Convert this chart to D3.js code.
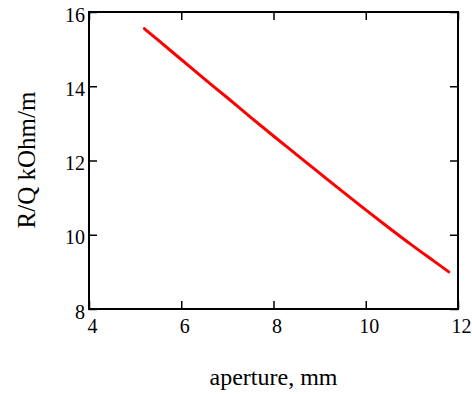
<!DOCTYPE html>
<html>
<head>
<meta charset="utf-8">
<script src="https://cdn.jsdelivr.net/npm/d3@7"></script>
<style>
  html, body { margin: 0; padding: 0; background: #fff; }
  svg { display: block; }
</style>
</head>
<body>
<svg id="chart" width="472" height="394"></svg>
<script>
// Data
const aperture = [5.2, 5.5, 6, 6.5, 7, 7.5, 8, 8.5, 9, 9.5, 10, 10.5, 11, 11.5, 11.8];
const rq       = [15.55, 15.24, 14.72, 14.2, 13.69, 13.17, 12.66, 12.16, 11.66, 11.16, 10.67, 10.19, 9.72, 9.27, 9.0];
const xTicks = [4, 6, 8, 10, 12];
const yTicks = [8, 10, 12, 14, 16];
const xLabel = "aperture, mm";
const yLabel = "R/Q kOhm/m";

const svg = d3.select("#chart");
const m = { left: 89, top: 12, right: 458, bottom: 309 };
const x = d3.scaleLinear().domain([4, 12]).range([m.left, m.right]);
const y = d3.scaleLinear().domain([8, 16]).range([m.bottom, m.top]);
const tickFont = "'Liberation Serif', 'Times New Roman', serif";

function styleAxis(g, hideText) {
  g.select(".domain").remove();
  g.selectAll(".tick line").attr("stroke", "#000").attr("stroke-width", 1.5);
  g.selectAll(".tick text").attr("fill", "#000").style("font-family", tickFont).style("font-size", "20px");
  if (hideText) g.selectAll(".tick text").remove();
}

// bottom axis
svg.append("g").attr("transform", `translate(0,${m.bottom})`)
  .call(d3.axisBottom(x).tickValues(xTicks).tickSize(-8).tickPadding(10).tickFormat(d3.format("d")))
  .call(g => styleAxis(g, false))
  .call(g => g.selectAll(".tick text").attr("dx", 3));
// top axis (ticks only)
svg.append("g").attr("transform", `translate(0,${m.top})`)
  .call(d3.axisTop(x).tickValues(xTicks).tickSize(-8))
  .call(g => styleAxis(g, true));
// left axis
svg.append("g").attr("transform", `translate(${m.left},0)`)
  .call(d3.axisLeft(y).tickValues(yTicks).tickSize(-8).tickPadding(4).tickFormat(d3.format("d")))
  .call(g => styleAxis(g, false))
  .call(g => g.selectAll(".tick text").attr("dy", "0.45em"));
// right axis (ticks only)
svg.append("g").attr("transform", `translate(${m.right},0)`)
  .call(d3.axisRight(y).tickValues(yTicks).tickSize(-8))
  .call(g => styleAxis(g, true));

// frame
svg.append("rect")
  .attr("x", m.left).attr("y", m.top)
  .attr("width", m.right - m.left).attr("height", m.bottom - m.top)
  .attr("fill", "none").attr("stroke", "#000").attr("stroke-width", 2);

// data line
const pts = aperture.map((a, i) => [a, rq[i]]);
svg.append("path")
  .datum(pts)
  .attr("fill", "none")
  .attr("stroke", "#ff0000")
  .attr("stroke-width", 3)
  .attr("stroke-linecap", "round")
  .attr("d", d3.line().curve(d3.curveMonotoneX).x(d => x(d[0])).y(d => y(d[1])));

// axis titles
svg.append("text")
  .attr("x", (m.left + m.right) / 2).attr("y", 385)
  .attr("text-anchor", "middle")
  .style("font-family", tickFont).style("font-size", "24px")
  .text(xLabel);

svg.append("text")
  .attr("transform", `translate(35,160) rotate(-90)`)
  .attr("text-anchor", "middle")
  .style("font-family", tickFont).style("font-size", "25px")
  .text(yLabel);
</script>
</body>
</html>
